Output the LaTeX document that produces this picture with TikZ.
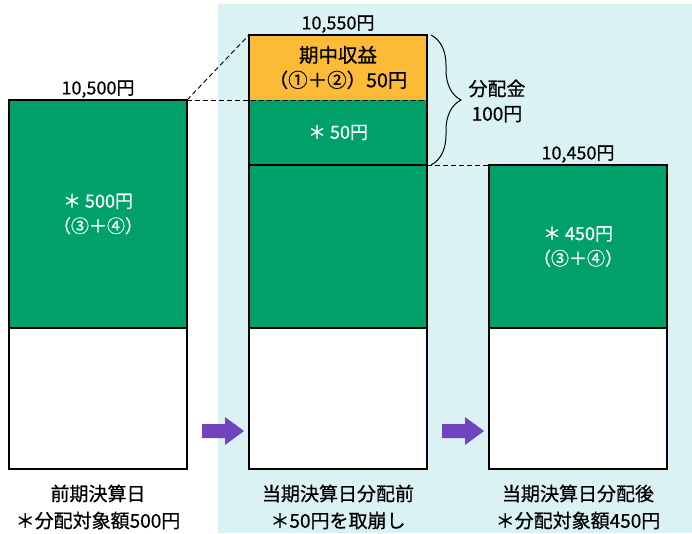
\documentclass[tikz,border=0pt]{standalone}
\usepackage{fontspec}
\setmainfont{Noto Sans CJK JP}[FakeBold=0.6]
\usetikzlibrary{decorations.pathreplacing}
\definecolor{bgblue}{RGB}{218,242,244}
\definecolor{boxgreen}{RGB}{0,160,107}
\definecolor{boxorange}{RGB}{251,187,54}
\definecolor{arrowpurple}{RGB}{112,68,188}
\tikzset{
  box/.style={draw=black, line width=1.1pt, inner sep=0pt, outer sep=0pt, anchor=north west, align=center},
  greenbox/.style={box, fill=boxgreen, text=white, font=\fontsize{18}{25}\selectfont},
  whitebox/.style={box, fill=white},
  orangebox/.style={box, fill=boxorange, text=black, font=\fontsize{19.5}{25}\selectfont},
  lbl/.style={inner sep=0pt, text=black, align=center},
  toplbl/.style={lbl, anchor=south, yshift=2pt, font=\fontsize{18}{22}\selectfont},
  caption/.style={lbl, font=\fontsize{19}{27}\selectfont},
  dashline/.style={draw=black, line width=0.9pt, dash pattern=on 5pt off 3pt},
  blockarrow/.style={fill=arrowpurple, draw=none},
}
\begin{document}
\begin{tikzpicture}[x=1pt, y=-1pt]
\useasboundingbox (0,0) rectangle (692,533);
% background panel
\fill[bgblue] (218,4) rectangle (692,533);

% left column
\node[greenbox, minimum width=178pt, minimum height=228pt] (Lg) at (9,100) {＊ 500円\\（③＋④）};
\node[whitebox, minimum width=178pt, minimum height=141pt] (Lw) at (9,328) {};

% middle column
\node[orangebox, minimum width=178pt, minimum height=65pt] (Mo) at (249,35) {期中収益\\（①＋②）50円};
\node[greenbox, minimum width=178pt, minimum height=65pt] (Mg1) at (249,100) {＊ 50円};
\node[greenbox, minimum width=178pt, minimum height=163pt] (Mg2) at (249,165) {};
\node[whitebox, minimum width=178pt, minimum height=141pt] (Mw) at (249,328) {};
% dashed boundary between orange and green
\fill[boxorange] (249.6,97) rectangle (426.4,100);
\fill[boxgreen] (249.6,100) rectangle (426.4,103);

% right column
\node[greenbox, minimum width=178pt, minimum height=163pt] (Rg) at (489,165) {＊ 450円\\（③＋④）};
\node[whitebox, minimum width=178pt, minimum height=141pt] (Rw) at (489,328) {};

% dashed connectors
\draw[dashline] (Lg.north east) -- (Mo.north west);
\draw[dashline] (Lg.north east) -- (Mg1.north east);
\draw[dashline] (Mg2.north east) -- (Rg.north west);

% brace
\coordinate (bt) at (431,35);
\coordinate (bb) at (431,165);
\draw[line width=1pt, decorate, decoration={brace, amplitude=30pt}] (bt) -- (bb);
\node[lbl, font=\fontsize{19}{25}\selectfont] (dist) at (497,101) {分配金\\100円};

% top value labels
\node[toplbl] (v1) at (Lg.north) {10,500円};
\node[toplbl] (v2) at (Mo.north) {10,550円};
\node[toplbl] (v3) at (Rg.north) {10,450円};

% block arrows
\fill[blockarrow] (202,424) -- (225,424) -- (225,417) -- (244,431) -- (225,445) -- (225,438) -- (202,438) -- cycle;
\fill[blockarrow] (442,424) -- (465,424) -- (465,417) -- (484,431) -- (465,445) -- (465,438) -- (442,438) -- cycle;

% bottom captions
\node[caption] (c1) at (98,507) {前期決算日\\＊分配対象額500円};
\node[caption] (c2) at (338,507) {当期決算日分配前\\＊50円を取崩し};
\node[caption] (c3) at (578,507) {当期決算日分配後\\＊分配対象額450円};
\end{tikzpicture}
\end{document}
